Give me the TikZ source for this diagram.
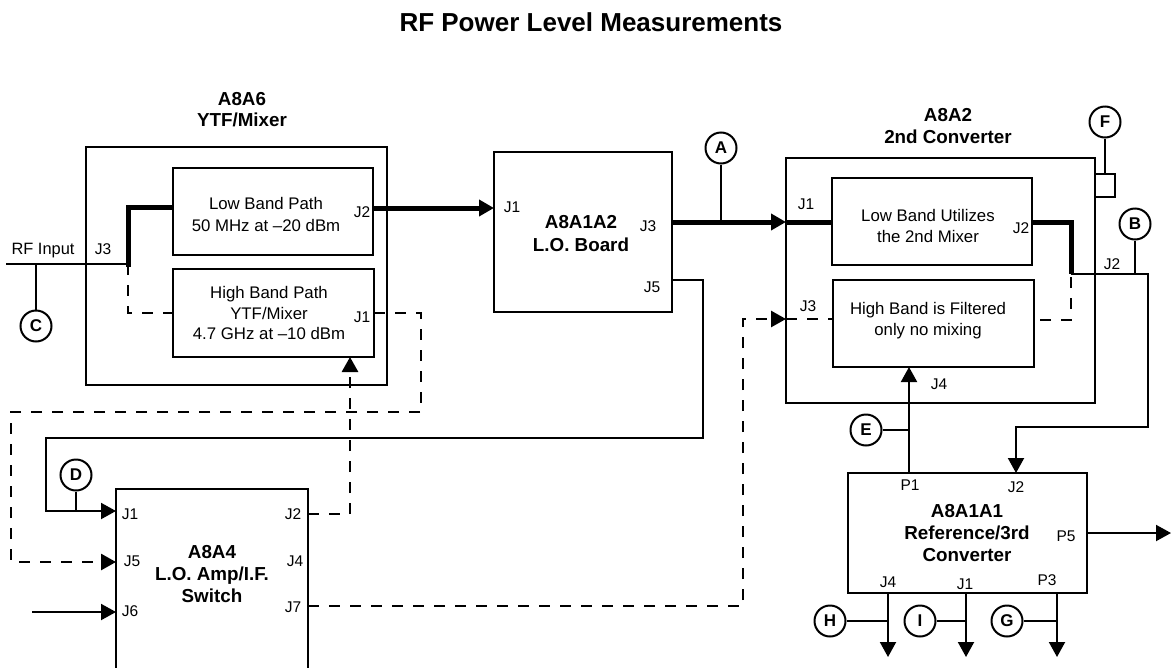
\documentclass[tikz,border=0pt]{standalone}
\usepackage{fontspec}
\setmainfont{Liberation Sans}
\usetikzlibrary{arrows.meta}
\begin{document}
\begin{tikzpicture}[
        x=1pt, y=-1pt,
        unit/.style={draw, line width=2.6pt, inner sep=0pt, outer sep=0pt, anchor=north west},
        boxtext/.style={align=center, inner sep=0pt, font=\fontsize{16.8}{20.5}\selectfont},
        boldtext/.style={align=center, inner sep=0pt, font=\bfseries\fontsize{18.8}{22}\selectfont},
        port/.style={inner sep=0pt, font=\fontsize{15.5}{16}\selectfont},
        tap/.style={draw, circle, line width=2pt, minimum size=31pt, inner sep=0pt, font=\bfseries\fontsize{17}{17}\selectfont},
        wire/.style={line width=2pt},
        heavy/.style={line width=5pt},
        dashwire/.style={line width=2.8pt, dash pattern=on 11pt off 10pt},
        tip/.style={-{Triangle[length=15pt,width=16pt]}}
    ]

    \useasboundingbox (0,0) rectangle (1172,667);

    \node[font=\bfseries\fontsize{26}{30}\selectfont, inner sep=0pt] (title) at (591,22) {RF Power Level Measurements};

    \node[unit, minimum width=301pt, minimum height=238pt] (ytf) at (86,147) {};
    \node[unit, minimum width=200pt, minimum height=87pt] (lowpath) at (173,168) {};
    \node[unit, minimum width=201pt, minimum height=88pt] (highpath) at (173,269) {};
    \node[unit, minimum width=178pt, minimum height=160pt] (lob) at (494,152) {};
    \node[unit, minimum width=309pt, minimum height=245pt] (conv) at (786,158) {};
    \node[unit, minimum width=200pt, minimum height=87pt] (lowmix) at (832,178) {};
    \node[unit, minimum width=201pt, minimum height=87pt] (highfilt) at (833,280) {};
    \node[unit, minimum width=192pt, minimum height=183pt] (loamp) at (116,489) {};
    \node[unit, minimum width=239pt, minimum height=120pt] (ref) at (848,473) {};
    \node[unit, minimum width=20pt, minimum height=23pt] (fport) at (1095,174) {};

    \node[boldtext, font=\bfseries\fontsize{18.8}{21}\selectfont] (ytf-title) at (242,110) {A8A6\\YTF/Mixer};
    \node[boldtext] (conv-title) at (948,126) {A8A2\\2nd Converter};
    \node[boxtext, font=\fontsize{16.8}{22}\selectfont] (lowpath-txt) at (266,214) {Low Band Path\\50 MHz at \textendash20 dBm};
    \node[boxtext] (highpath-txt) at (269,313) {High Band Path\\YTF/Mixer\\4.7 GHz at \textendash10 dBm};
    \node[boldtext, font=\bfseries\fontsize{18.8}{23}\selectfont] (lob-txt) at (581,234) {A8A1A2\\L.O. Board};
    \node[boxtext] (lowmix-txt) at (928,226) {Low Band Utilizes\\the 2nd Mixer};
    \node[boxtext, font=\fontsize{16.8}{21}\selectfont] (highfilt-txt) at (928,321) {High Band is Filtered\\only no mixing};
    \node[boldtext] (loamp-txt) at (212,574) {A8A4\\L.O. Amp/I.F.\\Switch};
    \node[boldtext] (ref-txt) at (967,533) {A8A1A1\\Reference/3rd\\Converter};

    \node[port, font=\fontsize{16.4}{17}\selectfont] (rf) at (43,251) {RF Input};
    \foreach \nm/\px/\py/\txt in {ytf-j3/103/249/J3, lowpath-j2/362/212/J2, highpath-j1/362/317/J1,
            lob-j1/512/207/J1, lob-j3/648/226/J3, lob-j5/652/287/J5,
            conv-j1/806/204/J1, lowmix-j2/1021/228/J2, conv-j2/1112/264/J2, conv-j3/808/306/J3, conv-j4/939/384/J4,
            loamp-j1/130/514/J1, loamp-j5/132/561/J5, loamp-j6/130/611/J6,
            loamp-j2/293/514/J2, loamp-j4/295/561/J4, loamp-j7/293/607/J7,
            ref-p1/910/485/P1, ref-j2/1016/487/J2, ref-p5/1066/536/P5,
            ref-j4/888/582/J4, ref-j1/965/584/J1, ref-p3/1047/580/P3} {
        \node[port] (\nm) at (\px,\py) {\txt};
    }

    \foreach \sym/\px/\py in {A/721/148, B/1135/224, C/36/326, D/76/475, E/866/430,
            F/1105/122, G/1007/621, H/830/621, I/920/621} {
        \node[tap] (tap\sym) at (\px,\py) {\sym};
    }

    \coordinate (rfin) at (6,264);
    \coordinate (split) at (128,264);
    \draw[wire] (rfin) -- (split);
    \draw[wire] (tapC) -- (tapC |- rfin);
    \draw[heavy] ([yshift=-3pt]split) -- (128,207) -- (lowpath.west |- 128,207);
    \draw[dashwire] (split) -- (128,313) -- (highpath.west |- 128,313);

    \draw[heavy, tip] (lowpath.east |- 0,208) -- (lob.west |- 0,208);
    \draw[dashwire, tip] (highpath.east |- 0,313) -- (421,313) -- (421,412) -- (11,412) -- (11,562) -- (loamp.west |- 0,562);
    \draw[dashwire, tip] (loamp.east |- 0,514) -- (350,514) -- (350,0 |- highpath.south);

    \draw[wire, tip] (lob.east |- 0,280) -- (703,280) -- (703,438) -- (46,438) -- (46,511) -- (loamp.west |- 0,511);
    \draw[wire] (tapD) -- (tapD |- 0,511);
    \coordinate (j6in) at (32,612);
    \draw[wire, tip] (j6in) -- (loamp.west |- j6in);

    \draw[dashwire, tip] (loamp.east |- 0,606) -- (743,606) -- (743,319) -- (conv.west |- 0,319);
    \draw[dashwire] (conv.west |- 0,319) -- (highfilt.west |- 0,319);

    \draw[heavy, tip] (lob.east |- 0,222) -- (conv.west |- 0,222);
    \draw[heavy] (conv.west |- 0,222) -- (lowmix.west |- 0,222);
    \draw[wire] (tapA) -- (tapA |- 0,222);

    \coordinate (mixout) at (1071,274);
    \draw[heavy] (lowmix.east |- 0,222) -- (1071,222) -- (mixout);
    \draw[wire, tip] (mixout) -- (1148,274) -- (1148,427) -- (1016,427) -- (1016,0 |- ref.north);
    \draw[wire] (tapB) -- (tapB |- mixout);
    \draw[dashwire] ([yshift=-3pt]mixout) -- (1071,320) -- (highfilt.east |- 0,320);
    \draw[wire] (tapF) -- (tapF |- fport.north);

    \draw[wire, tip] (909,0 |- ref.north) -- (909,0 |- highfilt.south);
    \draw[wire] (tapE) -- (909,0 |- tapE);

    \coordinate (p5out) at (1171,533);
    \draw[wire, tip] (ref.east |- p5out) -- (p5out);

    \foreach \sym/\px in {H/888, I/966, G/1057} {
        \draw[wire, tip] (\px,0 |- ref.south) -- (\px,657);
        \draw[wire] (tap\sym) -- (\px,0 |- tap\sym);
    }
\end{tikzpicture}
\end{document}
